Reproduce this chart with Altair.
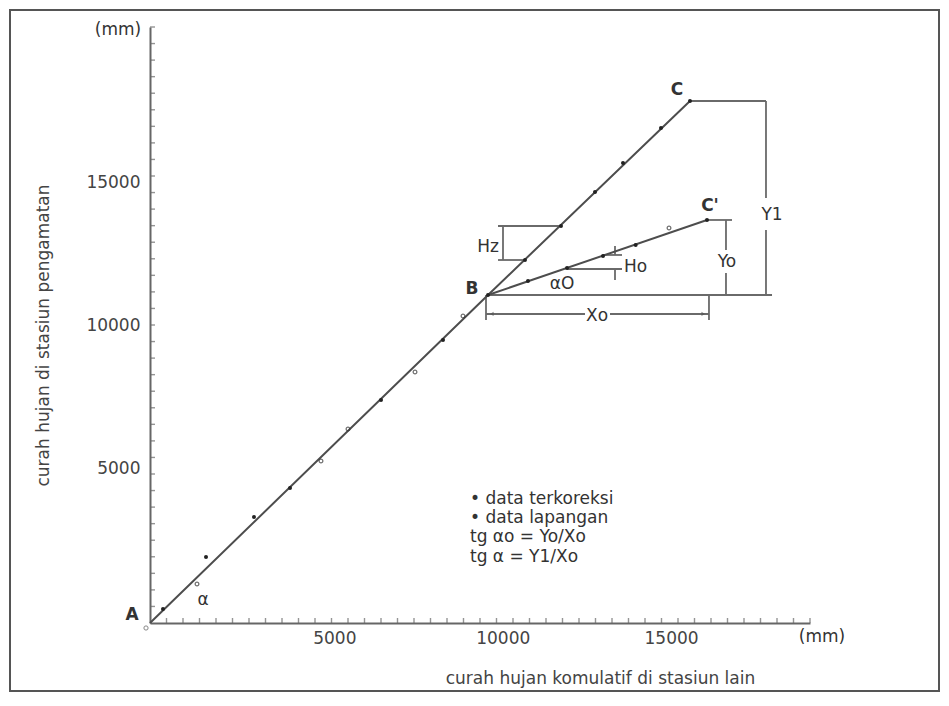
import altair as alt
import pandas as pd

# ---------------- values ----------------
# broken double-mass curve A -> B -> C  and  B -> C'
curve_name = ["ABC", "ABC", "ABC", "BC'", "BC'"]
curve_x = [0, 10038, 16036, 10038, 16541]
curve_y = [0, 11491, 18288, 11491, 14119]
curve_order = [0, 1, 2, 0, 1]

# plotted data points
pt_x = [386, 1396, 1663, 3088, 4158, 5078, 5880, 6860, 7870, 8701, 9295, 10038,
        11136, 12205, 13215, 14047, 15175, 16036,
        11225, 12384, 13453, 14423, 15413, 16541]
pt_y = [490, 1366, 2312, 3714, 4730, 5676, 6797, 7813, 8794, 9915, 10755, 11491,
        12717, 13909, 15100, 16116, 17342, 18288,
        11982, 12437, 12857, 13243, 13838, 14119]
pt_kind = ["lapangan", "terkoreksi", "lapangan", "lapangan", "lapangan", "terkoreksi",
           "terkoreksi", "lapangan", "terkoreksi", "lapangan", "terkoreksi", "lapangan",
           "lapangan", "lapangan", "lapangan", "lapangan", "lapangan", "lapangan",
           "lapangan", "lapangan", "lapangan", "lapangan", "terkoreksi", "lapangan"]

# construction / dimension lines (x, y, x2, y2)
seg_x = [16036, 18293, 18293, 10038, 16541, 17105, 17105, 10335, 10335, 10483,
         13453, 12384, 13809, 13809, 9978, 13661, 9978, 16600]
seg_y = [18288, 18288, 13768, 11491, 14119, 14119, 12262, 13909, 12717, 13909,
         12893, 12402, 13208, 12402, 10826, 10826, 11491, 11491]
seg_x2 = [18293, 18293, 18293, 18472, 17284, 17105, 17105, 12205, 11136, 10483,
          14017, 14017, 13809, 13809, 12918, 16600, 9978, 16600]
seg_y2 = [18288, 14889, 11491, 11491, 14119, 13068, 11491, 13909, 12717, 12717,
          12893, 12402, 12893, 12017, 10826, 10826, 10615, 10615]

# arrow heads of the Xo dimension
arrow_x = [10150, 16430]
arrow_y = [10826, 10826]
arrow_shape = ["triangle-left", "triangle-right"]

# point labels (bold)
lab_text = ["A", "B", "C", "C'"]
lab_x = [-535, 9562, 15650, 16630]
lab_y = [280, 11701, 18673, 14609]

# other annotations (centered)
ann_text = ["α", "αO", "Hz", "Yo", "Y1", "Xo", "(mm)", "(mm)"]
ann_x = [1574, 12235, 10038, 17135, 18472, 13275, -950, 19956]
ann_y = [806, 11877, 13173, 12647, 14294, 10755, 20775, -490]

# left-aligned annotations
left_text = ["Ho", "• data terkoreksi", "• data lapangan", "tg αo = Yo/Xo", "tg α = Y1/Xo"]
left_x = [14076, 9503, 9503, 9503, 9503]
left_y = [12472, 4344, 3678, 3013, 2312]

# axis ticks and labels
x_tick_step = 490
y_tick_step = 580
x_ticks = [x_tick_step * k for k in range(1, 41)]
y_ticks = [y_tick_step * k for k in range(1, 37)]
axis_labels = [5000, 10000, 15000]

x_title = "curah hujan komulatif di stasiun lain"
y_title = "curah hujan di stasiun pengamatan"

# ---------------- chart ----------------
FONT = "DejaVu Sans"
LINE = "#4d4d4d"
TXT = "#333333"

xscale = alt.Scale(domain=[0, 19600], nice=False, zero=False)
yscale = alt.Scale(domain=[0, 20880], nice=False, zero=False)

xaxis = alt.Axis(values=axis_labels, format="d", grid=False, ticks=False,
                 domainColor="#666666", domainWidth=2, labelFont=FONT,
                 labelFontSize=17, labelColor="#444444", labelPadding=7,
                 labelOffset=16, title=x_title, titleFont=FONT, titleFontSize=17,
                 titleFontWeight="normal", titleColor="#444444", titleX=450,
                 titleY=55, titleBaseline="middle")
yaxis = alt.Axis(values=axis_labels, format="d", grid=False, ticks=False,
                 domainColor="#666666", domainWidth=2, labelFont=FONT,
                 labelFontSize=17, labelColor="#444444", labelPadding=10,
                 labelOffset=-12, title=y_title, titleFont=FONT, titleFontSize=17,
                 titleFontWeight="normal", titleColor="#444444", titleX=-107,
                 titleY=308, titleAngle=270, titleBaseline="middle")


def X(f):
    return alt.X(f, type="quantitative", scale=xscale, axis=xaxis)


def Y(f):
    return alt.Y(f, type="quantitative", scale=yscale, axis=yaxis)


curve_df = pd.DataFrame({"name": curve_name, "x": curve_x, "y": curve_y, "o": curve_order})
pts_df = pd.DataFrame({"x": pt_x, "y": pt_y, "kind": pt_kind})
seg_df = pd.DataFrame({"x": seg_x, "y": seg_y, "x2": seg_x2, "y2": seg_y2})
arrow_df = pd.DataFrame({"x": arrow_x, "y": arrow_y, "shape": arrow_shape})
lab_df = pd.DataFrame({"x": lab_x, "y": lab_y, "t": lab_text})
ann_df = pd.DataFrame({"x": ann_x, "y": ann_y, "t": ann_text})
left_df = pd.DataFrame({"x": left_x, "y": left_y, "t": left_text})
xt_df = pd.DataFrame({"x": x_ticks, "y": [0] * len(x_ticks)})
yt_df = pd.DataFrame({"x": [0] * len(y_ticks), "y": y_ticks})
origin_df = pd.DataFrame({"x": [0], "y": [0]})

frame = alt.Chart(origin_df).mark_rect(fill=None, stroke="#555555", strokeWidth=2).encode(
    x=alt.value(-140), x2=alt.value(789), y=alt.value(-17), y2=alt.value(664))

base_axes = alt.Chart(xt_df).mark_tick(orient="vertical", size=5, thickness=1.4,
                                        yOffset=-2.5, color="#666666").encode(x=X("x"), y=Y("y"))
y_ticks_layer = alt.Chart(yt_df).mark_tick(orient="horizontal", size=5, thickness=1.4,
                                            xOffset=2.5, color="#666666").encode(x=X("x"), y=Y("y"))

segs = alt.Chart(seg_df).mark_rule(color="#6a6a6a", strokeWidth=1.8).encode(
    x=X("x"), y=Y("y"), x2="x2", y2="y2")

curves = alt.Chart(curve_df).mark_line(color=LINE, strokeWidth=2).encode(
    x=X("x"), y=Y("y"), detail="name", order="o")

arrows = alt.Chart(arrow_df).mark_point(filled=True, size=18, color="#555555").encode(
    x=X("x"), y=Y("y"), shape=alt.Shape("shape:N", scale=None))

pts_l = alt.Chart(pts_df).transform_filter(alt.datum.kind == "lapangan").mark_circle(
    size=16, color="#222222", opacity=1).encode(x=X("x"), y=Y("y"))
pts_k = alt.Chart(pts_df).transform_filter(alt.datum.kind == "terkoreksi").mark_point(
    shape="circle", size=14, filled=False, color="#333333", strokeWidth=1.2).encode(
    x=X("x"), y=Y("y"))

origin = alt.Chart(origin_df).mark_point(shape="circle", size=18, filled=False,
                                         color="#555555", strokeWidth=1, xOffset=-4,
                                         yOffset=5).encode(x=X("x"), y=Y("y"))

labels = alt.Chart(lab_df).mark_text(font=FONT, fontSize=17, fontWeight="bold",
                                     color=TXT, baseline="middle").encode(
    x=X("x"), y=Y("y"), text="t")
anns = alt.Chart(ann_df).mark_text(font=FONT, fontSize=17, color=TXT,
                                   baseline="middle").encode(x=X("x"), y=Y("y"), text="t")
lefts = alt.Chart(left_df).mark_text(font=FONT, fontSize=17, color=TXT, align="left",
                                     baseline="middle").encode(x=X("x"), y=Y("y"), text="t")

chart = alt.layer(
    base_axes, y_ticks_layer, frame, segs, curves, arrows, pts_l, pts_k, origin,
    labels, anns, lefts
).properties(
    width=660, height=596,
    autosize=alt.AutoSizeParams(type="none"),
    padding={"left": 142, "top": 19, "right": 130, "bottom": 69},
    background="white",
).configure_view(stroke=None)

chart.save("out.html", embed_options={"renderer": "svg", "actions": False})
